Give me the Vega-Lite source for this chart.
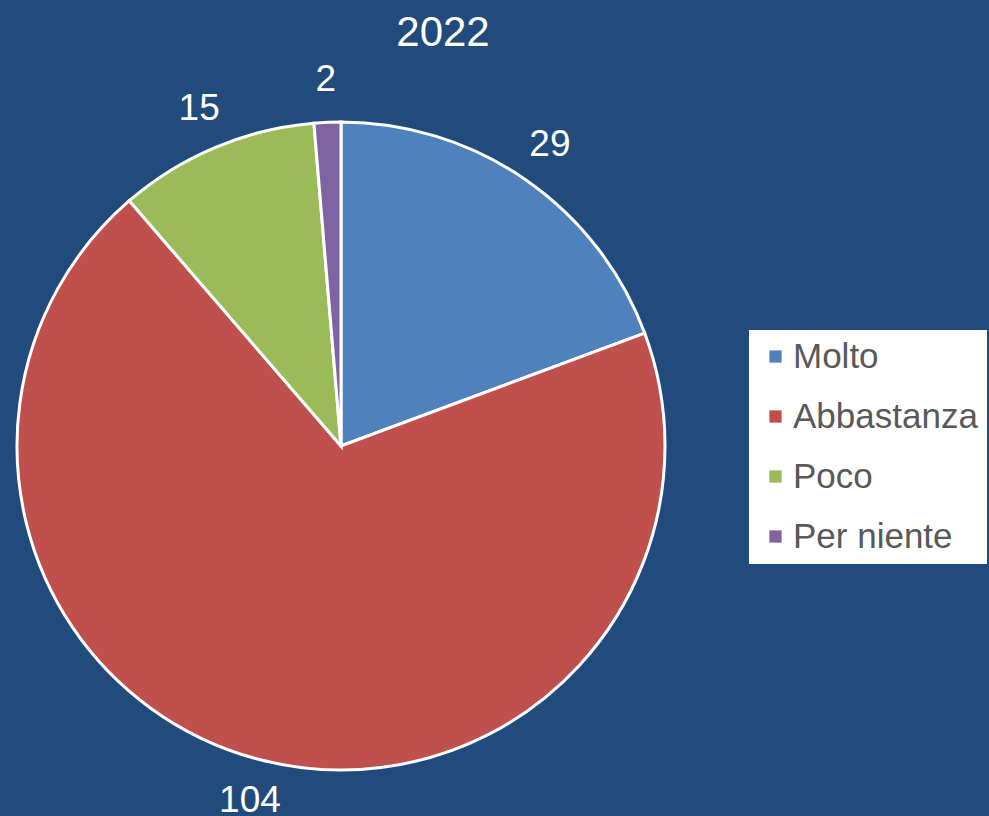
{
  "$schema": "https://vega.github.io/schema/vega-lite/v6.json",
  "width": 682,
  "height": 740,
  "autosize": {"type": "none"},
  "padding": {"left": 0, "top": 76, "right": 307, "bottom": 0},
  "background": "#214A7D",
  "title": {
    "text": "2022",
    "fontSize": 42,
    "font": "Liberation Sans",
    "fontWeight": "normal",
    "color": "#FFFFFF",
    "anchor": "middle",
    "dx": 102,
    "offset": 6
  },
  "data": {
    "values": [
      {"cat": "Molto", "n": 29, "ord": 1},
      {"cat": "Abbastanza", "n": 104, "ord": 2},
      {"cat": "Poco", "n": 15, "ord": 3},
      {"cat": "Per niente", "n": 2, "ord": 4}
    ]
  },
  "encoding": {
    "theta": {"field": "n", "type": "quantitative", "stack": true},
    "order": {"field": "ord", "type": "quantitative"}
  },
  "layer": [
    {
      "mark": {"type": "arc", "radius": 324, "stroke": "#FFFFFF", "strokeWidth": 3},
      "encoding": {
        "color": {
          "field": "cat",
          "type": "nominal",
          "sort": ["Molto", "Abbastanza", "Poco", "Per niente"],
          "scale": {
            "domain": ["Molto", "Abbastanza", "Poco", "Per niente"],
            "range": ["#4F81BD", "#C0504D", "#9BBB59", "#8064A2"]
          },
          "legend": {
            "title": null,
            "orient": "none",
            "legendX": 749,
            "legendY": 254,
            "fillColor": "#FFFFFF",
            "padding": 9,
            "symbolType": "square",
            "symbolSize": 150,
            "symbolStrokeWidth": 0,
            "symbolOffset": 0,
            "labelFontSize": 35,
            "labelFont": "Liberation Sans",
            "labelColor": "#595959",
            "labelOffset": 0,
            "labelLimit": 400,
            "rowPadding": 24
          }
        }
      }
    },
    {
      "mark": {"type": "text", "radius": 366, "fontSize": 37, "font": "Liberation Sans"},
      "encoding": {
        "text": {"field": "n", "type": "quantitative"},
        "color": {"value": "#FFFFFF"}
      }
    }
  ]
}
